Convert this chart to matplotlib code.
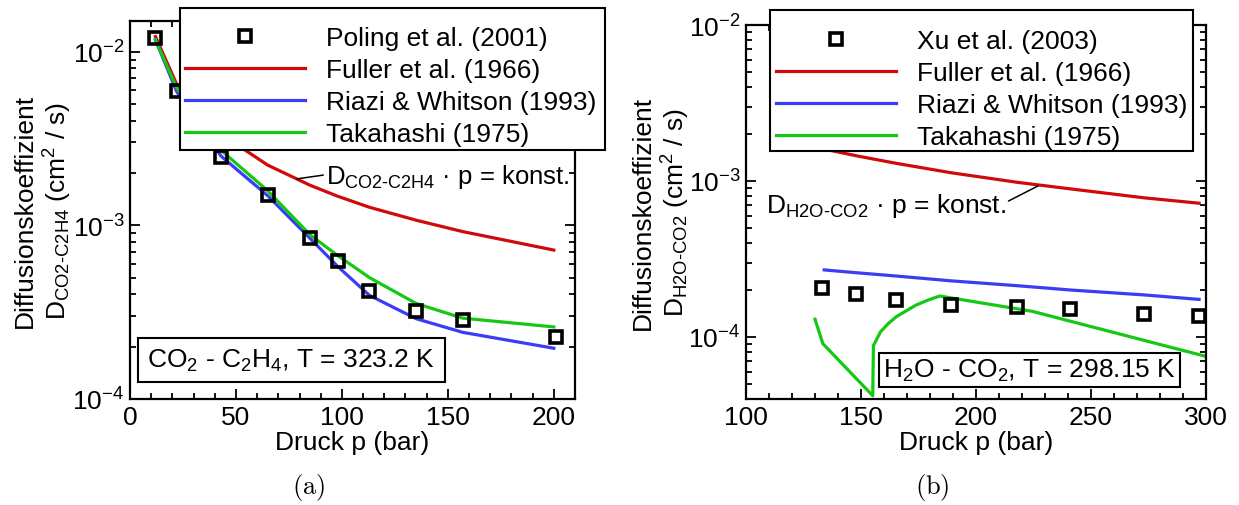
import matplotlib
matplotlib.use('Agg')
import matplotlib.pyplot as plt
from matplotlib.patches import Rectangle
from matplotlib.ticker import MultipleLocator, LogLocator, NullFormatter, LogFormatterMathtext

plt.rcParams['font.family'] = ['Liberation Sans', 'DejaVu Sans']
plt.rcParams['mathtext.fontset'] = 'custom'
plt.rcParams['mathtext.rm'] = 'Liberation Sans'
plt.rcParams['mathtext.it'] = 'Liberation Sans:italic'
plt.rcParams['mathtext.bf'] = 'Liberation Sans:bold'
plt.rcParams['font.size'] = 19

# (a) CO2 - C2H4, T = 323.2 K
poling_p = [12, 22, 43, 65, 85, 98, 113, 135, 157, 201]
poling_D = [1.2e-2, 5.9e-3, 2.47e-3, 1.49e-3, 8.5e-4, 6.2e-4, 4.2e-4, 3.2e-4, 2.85e-4, 2.28e-4]
model_p_a = [12, 22, 43, 65, 85, 98, 113, 135, 157, 200]
fuller_a = [1.22e-2, 6.5e-3, 3.35e-3, 2.22e-3, 1.7e-3, 1.47e-3, 1.27e-3, 1.07e-3, 9.2e-4, 7.2e-4]
riazi_a = [1.17e-2, 5.9e-3, 2.5e-3, 1.48e-3, 8.4e-4, 5.8e-4, 3.95e-4, 2.9e-4, 2.42e-4, 1.96e-4]
taka_a = [1.17e-2, 6.2e-3, 2.7e-3, 1.58e-3, 8.8e-4, 6.7e-4, 5.0e-4, 3.55e-4, 2.92e-4, 2.6e-4]

# (b) H2O - CO2, T = 298.15 K
xu_p = [133, 148, 165, 189, 218, 241, 273, 297]
xu_D = [2.07e-4, 1.88e-4, 1.72e-4, 1.6e-4, 1.56e-4, 1.52e-4, 1.41e-4, 1.36e-4]
fuller_b_p = [128, 148, 165, 189, 218, 241, 273, 297]
fuller_b = [1.67e-3, 1.45e-3, 1.3e-3, 1.13e-3, 9.8e-4, 8.9e-4, 7.8e-4, 7.2e-4]
riazi_b_p = [134, 148, 165, 189, 218, 241, 273, 297]
riazi_b = [2.69e-4, 2.58e-4, 2.46e-4, 2.29e-4, 2.13e-4, 2.0e-4, 1.86e-4, 1.74e-4]
taka_b_p = [130, 133.4, 155.1, 155.4, 158.5, 161.9, 165.4, 173.9, 179.0, 184.2, 224.4, 300]
taka_b = [1.3e-4, 9.06e-5, 4.2e-5, 8.8e-5, 1.08e-4, 1.22e-4, 1.35e-4, 1.6e-4, 1.72e-4, 1.83e-4, 1.46e-4, 7.5e-5]

RED = '#d00a0a'
BLUE = '#3c3cf5'
GREEN = '#14c814'
LW = 2.3

W, H = 1239, 506
fig = plt.figure(figsize=(W / 100, H / 100), dpi=100)


def px_box(left, top, right, bottom):
    return [left / W, 1 - bottom / H, (right - left) / W, (bottom - top) / H]


def style_axes(ax, major, minor):
    ax.set_yscale('log')
    ax.xaxis.set_major_locator(MultipleLocator(major))
    ax.xaxis.set_minor_locator(MultipleLocator(minor))
    ax.yaxis.set_major_locator(LogLocator(base=10))
    ax.yaxis.set_major_formatter(LogFormatterMathtext())
    ax.yaxis.set_minor_locator(LogLocator(base=10, subs=range(2, 10)))
    ax.yaxis.set_minor_formatter(NullFormatter())
    ax.tick_params(which='both', direction='in', top=True, right=True, width=1.3)
    ax.tick_params(which='major', length=7, pad=4)
    ax.tick_params(which='minor', length=4)
    for s in ax.spines.values():
        s.set_linewidth(1.6)


def draw_legend(handles, labels, frame, anchor):
    l, t, r, b = frame
    fig.add_artist(Rectangle((l / W, 1 - b / H), (r - l) / W, (b - t) / H,
                             transform=fig.transFigure, facecolor='white',
                             edgecolor='black', linewidth=1.5, zorder=3))
    fig.legend(handles, labels, loc='upper left', frameon=False,
               bbox_to_anchor=(anchor[0] / W, 1 - anchor[1] / H),
               borderpad=0, borderaxespad=0, handlelength=4.55,
               handletextpad=0.8, labelspacing=0.3, fontsize=19)


# ---------- panel (a) ----------
ax1 = fig.add_axes(px_box(130, 22, 575, 400))
style_axes(ax1, 50, 10)
m1, = ax1.plot(poling_p, poling_D, 's', ms=9, mfc='none', mec='black', mew=2.6, zorder=4)
r1, = ax1.plot(model_p_a, fuller_a, color=RED, lw=LW)
b1, = ax1.plot(model_p_a, riazi_a, color=BLUE, lw=LW)
g1, = ax1.plot(model_p_a, taka_a, color=GREEN, lw=LW)
ax1.set_xlim(0, 210)
ax1.set_ylim(1e-4, 1.5e-2)
ax1.set_xlabel('Druck p (bar)', labelpad=1)
ax1.set_ylabel('Diffusionskoeffizient\n' + r'$\mathrm{D}_{\text{CO2-C2H4}}$ (cm$^2$ / s)')
ax1.yaxis.set_label_coords(-0.125, 0.5)
ax1.annotate(r'$\mathrm{D}_{\text{CO2-C2H4}}$ · p = konst.', xy=(78.8, 1.85e-3),
             xytext=(92.5, 1.75e-3), va='baseline', ha='left', fontsize=18.5,
             arrowprops=dict(arrowstyle='-', lw=1.1, color='black',
                             shrinkA=0, shrinkB=0, relpos=(0, 0.55)))
ax1.text(0.363, 0.103, r'CO$_2$ - C$_2$H$_4$, T = 323.2 K', transform=ax1.transAxes,
         ha='center', va='center',
         bbox=dict(boxstyle='square,pad=0.35', fc='white', ec='black', lw=1.5))
draw_legend([m1, r1, b1, g1],
            ['Poling et al. (2001)', 'Fuller et al. (1966)',
             'Riazi & Whitson (1993)', 'Takahashi (1975)'],
            (180, 9, 605, 151), (185, 27))

# ---------- panel (b) ----------
ax2 = fig.add_axes(px_box(746, 26, 1206, 400))
style_axes(ax2, 50, 10)
m2, = ax2.plot(xu_p, xu_D, 's', ms=9, mfc='none', mec='black', mew=2.6, zorder=4)
r2, = ax2.plot(fuller_b_p, fuller_b, color=RED, lw=LW)
b2, = ax2.plot(riazi_b_p, riazi_b, color=BLUE, lw=LW)
g2, = ax2.plot(taka_b_p, taka_b, color=GREEN, lw=LW)
ax2.set_xlim(100, 300)
ax2.set_ylim(4e-5, 1e-2)
ax2.set_xlabel('Druck p (bar)', labelpad=1)
ax2.set_ylabel('Diffusionskoeffizient\n' + r'$\mathrm{D}_{\text{H2O-CO2}}$ (cm$^2$ / s)')
ax2.yaxis.set_label_coords(-0.118, 0.5)
ax2.annotate(r'$\mathrm{D}_{\text{H2O-CO2}}$ · p = konst.', xy=(227, 9.3e-4),
             xytext=(108.5, 6.3e-4), va='baseline', ha='left',
             arrowprops=dict(arrowstyle='-', lw=1.1, color='black',
                             shrinkA=0, shrinkB=0, relpos=(1, 0.6)))
ax2.text(0.617, 0.077, r'H$_2$O - CO$_2$, T = 298.15 K', transform=ax2.transAxes,
         ha='center', va='center',
         bbox=dict(boxstyle='square,pad=0.15', fc='white', ec='black', lw=1.5))
draw_legend([m2, r2, b2, g2],
            ['Xu et al. (2003)', 'Fuller et al. (1966)',
             'Riazi & Whitson (1993)', 'Takahashi (1975)'],
            (770, 11, 1193, 152), (776, 30))

fig.text(309 / W, 1 - 488 / H, r'$\mathrm{(a)}$', math_fontfamily='cm',
         ha='center', va='center', fontsize=19)
fig.text(932 / W, 1 - 488 / H, r'$\mathrm{(b)}$', math_fontfamily='cm',
         ha='center', va='center', fontsize=19)

fig.savefig('out.png', dpi=100)
